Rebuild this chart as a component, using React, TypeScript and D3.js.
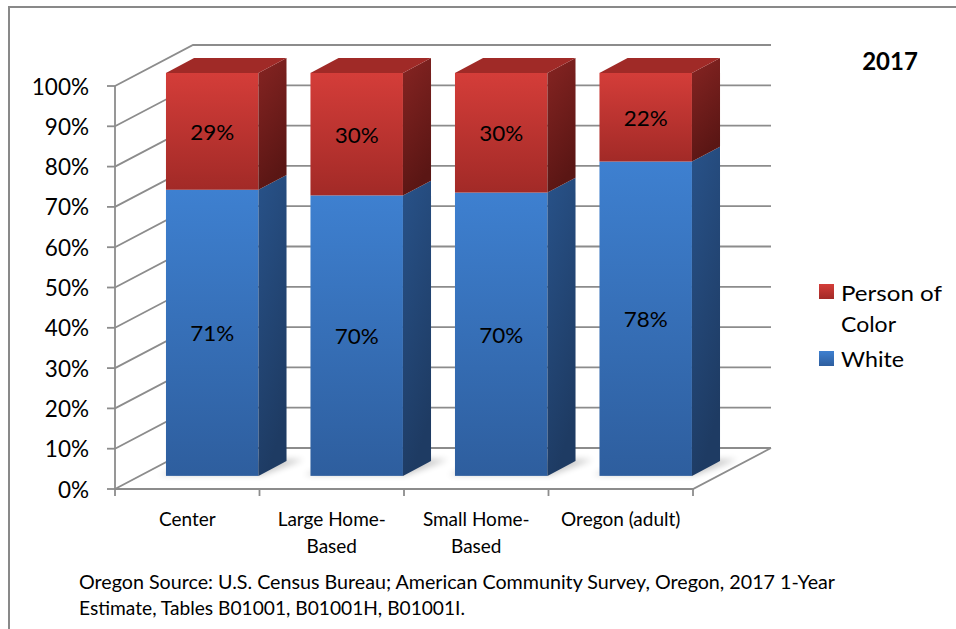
import React from "react";
import * as d3 from "d3";

const categories = ["Center", "Large Home-Based", "Small Home-Based", "Oregon (adult)"];
const categoryLines = [["Center"], ["Large Home-", "Based"], ["Small Home-", "Based"], ["Oregon (adult)"]];
const whiteValues = [71, 69.6, 70.3, 78];
const pocValues = [29, 30.4, 29.7, 22];
const seriesNames = ["Person of Color", "White"];
const yTicks = [0, 10, 20, 30, 40, 50, 60, 70, 80, 90, 100];
const yearLabel = "2017";
const footnoteLines = [
  "Oregon Source: U.S. Census Bureau; American Community Survey, Oregon, 2017 1-Year",
  "Estimate, Tables B01001, B01001H, B01001I.",
];
const footnoteWidths = [756, 386];

const W = 956;
const H = 629;
const FONT = "Lato, 'Open Sans', sans-serif";

export default function App() {
  const x = d3.scaleBand<string>().domain(categories).range([115, 693]).padding(0);
  const y = d3.scaleLinear().domain([0, 100]).range([489, 86]);
  const DX = 78;
  const DY = -41;
  const z0 = 0.32;
  const z1 = 0.68;
  const barFrac = 0.64;
  const step = x.bandwidth();
  const bw = step * barFrac;

  const P = (xs: number, v: number, z: number) => [xs + z * DX, y(v) + z * DY];
  const pts = (arr: number[][]) => arr.map((p) => p.join(",")).join(" ");

  const gridColor = "#8c8c8c";
  const xL = x.range()[0];
  const xR = x.range()[1];

  const segs = categories.map((c, i) => {
    const w = whiteValues[i];
    const total = w + pocValues[i];
    return [
      { key: "white", v0: 0, v1: (w / total) * 100, val: w, top: false },
      { key: "poc", v0: (w / total) * 100, v1: 100, val: pocValues[i], top: true },
    ];
  });

  const grad = {
    poc: { front: ["#d43d39", "#a22a27"], side: ["#862422", "#5a1614"], top: "#a02a27" },
    white: { front: ["#3e80d0", "#2e5e9e"], side: ["#285289", "#1e3b63"], top: "#2d5f9f" },
  } as const;

  return (
    <svg width={W} height={H} style={{ position: "absolute", left: 0, top: 0, background: "#fff" }} fontFamily={FONT}>
      <defs>
        {(["poc", "white"] as const).map((k) => (
          <React.Fragment key={k}>
            <linearGradient id={`front-${k}`} x1="0" y1="0" x2="0" y2="1">
              <stop offset="0" stopColor={grad[k].front[0]} />
              <stop offset="1" stopColor={grad[k].front[1]} />
            </linearGradient>
            <linearGradient id={`side-${k}`} x1="0" y1="0" x2="0.3" y2="1">
              <stop offset="0" stopColor={grad[k].side[0]} />
              <stop offset="1" stopColor={grad[k].side[1]} />
            </linearGradient>
          </React.Fragment>
        ))}
        <filter id="shadow" x="-20%" y="-50%" width="140%" height="200%">
          <feGaussianBlur stdDeviation="3" />
        </filter>
      </defs>

      <rect x={9} y={7} width={W + 40} height={H + 40} fill="#fff" stroke="#898989" strokeWidth={2} />

      {yTicks.map((t) => {
        const a = P(xL, t, 0);
        const b = P(xL, t, 1);
        const c = P(xR, t, 1);
        return <polyline key={t} points={pts([a, b, c])} fill="none" stroke={gridColor} strokeWidth={1.8} />;
      })}
      <polyline points={pts([P(xL, 0, 0), P(xR, 0, 0), P(xR, 0, 1)])} fill="none" stroke={gridColor} strokeWidth={1.8} />
      <line x1={xL} y1={y(0)} x2={xL} y2={y(100)} stroke={gridColor} strokeWidth={1.8} />
      {yTicks.map((t) => (
        <line key={t} x1={xL - 8} x2={xL} y1={y(t)} y2={y(t)} stroke={gridColor} strokeWidth={1.8} />
      ))}
      {d3.range(categories.length + 1).map((i) => {
        const xs = xL + i * step;
        return <line key={i} x1={xs} x2={xs} y1={y(0)} y2={y(0) + 7} stroke={gridColor} strokeWidth={1.8} />;
      })}

      {categories.map((c) => {
        const cx = (x(c) as number) + step / 2;
        const l = cx - bw / 2;
        const r = cx + bw / 2;
        return (
          <polygon
            key={c}
            points={pts([P(l - 8, 0, z0 + 0.02), P(r + 2, 0, z0 + 0.02), P(r + 14, 0, z1 + 0.04), P(l + 6, 0, z1 + 0.04)])}
            fill="#000"
            opacity={0.22}
            filter="url(#shadow)"
          />
        );
      })}

      {categories.map((c, i) => {
        const cx = (x(c) as number) + step / 2;
        const l = cx - bw / 2;
        const r = cx + bw / 2;
        return (
          <g key={c}>
            {segs[i].map((s) => {
              const fl = P(l, s.v1, z0);
              const fr = P(r, s.v0, z0);
              return (
                <g key={s.key}>
                  <rect x={fl[0]} y={fl[1]} width={fr[0] - fl[0]} height={fr[1] - fl[1]} fill={`url(#front-${s.key})`} />
                  <polygon
                    points={pts([P(r, s.v1, z0), P(r, s.v1, z1), P(r, s.v0, z1), P(r, s.v0, z0)])}
                    fill={`url(#side-${s.key})`}
                  />
                  {s.top && (
                    <polygon
                      points={pts([P(l, s.v1, z0), P(r, s.v1, z0), P(r, s.v1, z1), P(l, s.v1, z1)])}
                      fill={grad[s.key as "poc" | "white"].top}
                    />
                  )}
                </g>
              );
            })}
            {segs[i].map((s) => {
              const p = P(cx, (s.v0 + s.v1) / 2, z0);
              return (
                <text key={s.key + "l"} x={p[0]} y={p[1]} textAnchor="middle" dominantBaseline="central" fontSize={22} fill="#000" textLength={44} lengthAdjust="spacingAndGlyphs">
                  {`${Math.round(s.val)}%`}
                </text>
              );
            })}
          </g>
        );
      })}

      {yTicks.map((t) => (
        <text key={t} x={89} y={y(t)} textAnchor="end" dominantBaseline="central" fontSize={22.5} fill="#000">
          {`${t}%`}
        </text>
      ))}

      {categories.map((c, i) => {
        const cx = (x(c) as number) + step / 2;
        return (
          <text key={c} textAnchor="middle" fontSize={19} fill="#000">
            {categoryLines[i].map((ln, j) => (
              <tspan key={j} x={cx} y={518 + j * 27} dominantBaseline="central">
                {ln}
              </tspan>
            ))}
          </text>
        );
      })}

      <text x={890} y={60} textAnchor="middle" dominantBaseline="central" fontSize={24} fontWeight="bold" fill="#000">
        {yearLabel}
      </text>

      <rect x={819} y={284} width={15} height={15} fill="url(#front-poc)" />
      <text x={841} y={292} dominantBaseline="central" fontSize={21} fill="#000" textLength={101} lengthAdjust="spacingAndGlyphs">Person of</text>
      <text x={841} y={323} dominantBaseline="central" fontSize={21} fill="#000" textLength={55} lengthAdjust="spacingAndGlyphs">Color</text>
      <rect x={819} y={351} width={15} height={15} fill="url(#front-white)" />
      <text x={841} y={358} dominantBaseline="central" fontSize={21} fill="#000" textLength={63} lengthAdjust="spacingAndGlyphs">{seriesNames[1]}</text>

      {footnoteLines.map((ln, i) => (
        <text key={i} x={79} y={581 + i * 26} dominantBaseline="central" fontSize={19.5} fill="#000" textLength={footnoteWidths[i]} lengthAdjust="spacingAndGlyphs">
          {ln}
        </text>
      ))}
    </svg>
  );
}
